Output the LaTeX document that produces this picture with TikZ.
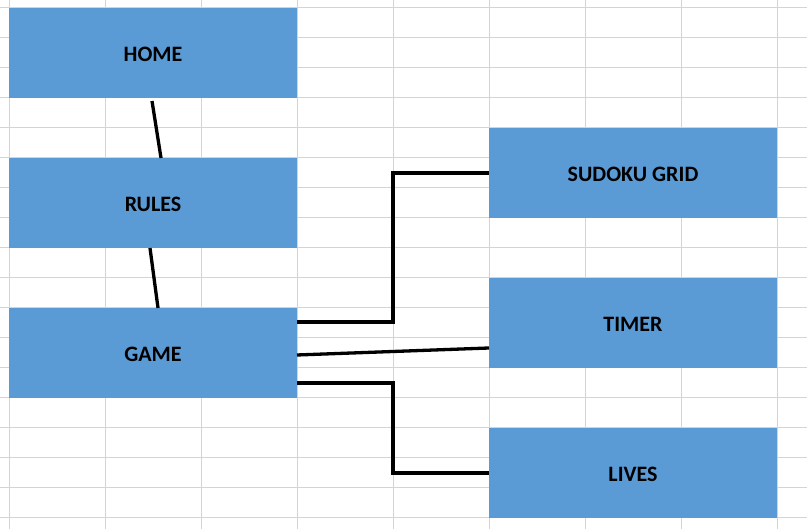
\documentclass[tikz,border=0pt]{standalone}
\usepackage{fontspec}
\setmainfont{Carlito}
\usepackage{xcolor}
\usepackage{tikz}
\usetikzlibrary{positioning}

\definecolor{cellblue}{RGB}{91,155,213}
\definecolor{cellgrid}{RGB}{212,212,212}

\tikzset{
    box/.style={fill=cellblue, minimum width=288pt, minimum height=90pt, inner sep=0pt, outer sep=0pt, text height=18pt, font=\fontsize{22}{26}\selectfont\bfseries},
    link/.style={line width=3.3pt, black},
    gridline/.style={cellgrid, line width=1pt}
}

\begin{document}
\begin{tikzpicture}[x=1pt, y=1pt, node distance=60pt]
            \useasboundingbox (0,0) rectangle (807,529);
            \fill[white] (0,0) rectangle (807,529);
            \foreach \x in {9,105,...,777} \draw[gridline] (\x,0) -- (\x,529);
            \foreach \y in {11,41,...,521} \draw[gridline] (0,\y) -- (807,\y);

            \node[box] (home) at (153,476) {HOME};
            \node[box, below=of home] (rules) {RULES};
            \node[box, below=of rules] (game) {GAME};

            \node[box] (sudoku) at (633,356) {SUDOKU GRID};
            \node[box, below=of sudoku] (timer) {TIMER};
            \node[box, below=of timer] (lives) {LIVES};

            \draw[link] ([xshift=-1pt,yshift=-3pt]home.south) -- ([xshift=8pt]rules.north);
            \draw[link] ([xshift=-3pt]rules.south) -- ([xshift=5pt]game.north);
            \draw[link] ([yshift=31pt]game.east) -- ++(96,0) |- (sudoku.west);
            \draw[link] ([yshift=-2pt]game.east) -- ([yshift=-25pt]timer.west);
            \draw[link] ([yshift=-30pt]game.east) -- ++(96,0) |- (lives.west);
        \end{tikzpicture}
\end{document}
